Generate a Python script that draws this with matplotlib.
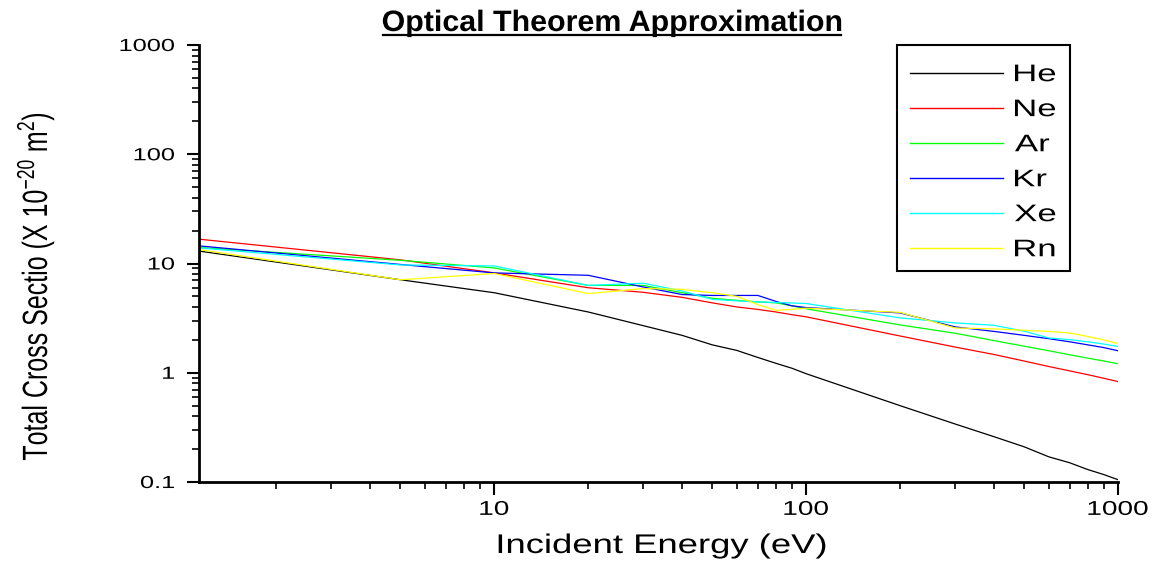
import matplotlib
matplotlib.use("Agg")
import matplotlib.pyplot as plt
from matplotlib.lines import Line2D
from matplotlib.patches import PathPatch, Rectangle
from matplotlib.textpath import TextPath
from matplotlib.font_manager import FontProperties
from matplotlib.transforms import Affine2D, IdentityTransform
from matplotlib.ticker import LogLocator, FixedLocator, NullFormatter

plt.rcParams['font.family'] = ['Liberation Sans', 'DejaVu Sans']
plt.rcParams['mathtext.default'] = 'regular'

# incident energies (eV), shared by all gases
energy = [1.13, 5, 10, 20, 30, 40, 50, 60, 70, 80, 90, 100,
          200, 300, 400, 500, 600, 700, 800, 900, 1000]

# total cross sections (x 1e-20 m^2)
he = [13.0, 7.1, 5.4, 3.6, 2.7, 2.2, 1.8, 1.6, 1.38, 1.22, 1.1, 0.98,
      0.50, 0.34, 0.26, 0.21, 0.17, 0.15, 0.13, 0.117, 0.105]
ne = [16.7, 10.8, 8.2, 6.0, 5.45, 4.9, 4.36, 4.0, 3.8, 3.6, 3.4, 3.25,
      2.17, 1.72, 1.47, 1.28, 1.14, 1.04, 0.96, 0.89, 0.83]
ar = [14.0, 10.7, 9.1, 6.3, 6.3, 5.4, 4.8, 4.6, 4.45, 4.36, 4.1, 3.85,
      2.74, 2.3, 1.97, 1.75, 1.59, 1.46, 1.36, 1.28, 1.21]
kr = [14.5, 9.8, 8.2, 7.8, 6.1, 5.2, 5.1, 5.1, 5.1, 4.5, 4.1, 3.95,
      3.53, 2.63, 2.39, 2.2, 2.05, 1.92, 1.8, 1.7, 1.59]
xe = [13.9, 9.7, 9.5, 6.3, 6.6, 5.6, 4.7, 4.55, 4.45, 4.4, 4.35, 4.3,
      3.18, 2.86, 2.72, 2.4, 2.08, 2.01, 1.92, 1.83, 1.74]
rn = [13.4, 7.1, 8.1, 5.3, 5.9, 5.8, 5.4, 5.0, 4.2, 3.73, 3.8, 3.9,
      3.57, 2.57, 2.52, 2.45, 2.39, 2.31, 2.15, 2.0, 1.85]

gases = ['He', 'Ne', 'Ar', 'Kr', 'Xe', 'Rn']
series = [he, ne, ar, kr, xe, rn]
colors = ['black', '#ff0000', '#00ff00', '#0000ff', '#00ffff', '#ffff00']

xticks = [10, 100, 1000]
xtick_labels = ['10', '100', '1000']
yticks = [0.1, 1, 10, 100, 1000]
ytick_labels = ['0.1', '1', '10', '100', '1000']

W, H = 1154, 562
fig = plt.figure(figsize=(W / 100, H / 100), dpi=100)
ax = fig.add_axes([199 / W, 1 - 482 / H, 919 / W, 437 / H])


def put_text(s, x, y, size, sx=1.0, sy=1.0, ha='center', va='center',
             rot=0, weight='normal'):
    # text drawn as a path so it can be stretched like the original picture
    # x, y are pixels measured from the top-left corner
    fp = FontProperties(family='Liberation Sans', weight=weight)
    tp = TextPath((0, 0), s, size=size, prop=fp)
    ext = tp.get_extents()
    ox = {'left': ext.x0, 'center': (ext.x0 + ext.x1) / 2, 'right': ext.x1}[ha]
    oy = {'bottom': ext.y0, 'center': (ext.y0 + ext.y1) / 2, 'top': ext.y1,
          'baseline': 0}[va]
    tr = (Affine2D().translate(-ox, -oy).scale(sx, sy).rotate_deg(rot)
          .translate(x, H - y))
    fig.add_artist(PathPatch(tp, transform=tr, facecolor='black', lw=0))
    return (ext.x0 - ox) * sx + x, (ext.x1 - ox) * sx + x


for name, vals, col in zip(gases, series, colors):
    ax.plot(energy, vals, color=col, lw=0.9)

ax.set_xscale('log')
ax.set_yscale('log')
ax.set_xlim(1.13, 1000)
ax.set_ylim(0.1, 1000)

for s in ['top', 'right']:
    ax.spines[s].set_visible(False)
for s in ['left', 'bottom']:
    ax.spines[s].set_linewidth(2)

ax.xaxis.set_major_locator(FixedLocator(xticks))
ax.xaxis.set_minor_locator(LogLocator(base=10, subs=range(2, 10)))
ax.yaxis.set_major_locator(FixedLocator(yticks))
ax.yaxis.set_minor_locator(LogLocator(base=10, subs=range(2, 10)))
for a in [ax.xaxis, ax.yaxis]:
    a.set_major_formatter(NullFormatter())
    a.set_minor_formatter(NullFormatter())
ax.tick_params(which='major', direction='out', length=9, width=1.5)
ax.tick_params(which='minor', direction='out', length=5, width=1.2)

# tick labels, placed at the positions the log axes give
fig.canvas.draw()
for v, lab in zip(xticks, xtick_labels):
    px = ax.transData.transform((v, 1))[0]
    put_text(lab, px, 508, 20, sx=1.4)
for v, lab in zip(yticks, ytick_labels):
    py = H - ax.transData.transform((10, v))[1]
    put_text(lab, 174, py, 17.5, sx=1.45, ha='right')

# axis labels
put_text('Incident Energy (eV)', 662, 553, 27, sx=1.35, va='baseline')
put_text('Total Cross Sectio (X 10$^{-20}$ m$^{2}$)', 47, 287, 25, sy=1.4,
         va='baseline', rot=90)

# title with underline
x0, x1 = put_text('Optical Theorem Approximation', 612, 31, 29.5, sx=1.03,
                  va='baseline', weight='bold')
fig.add_artist(Line2D([x0, x1], [H - 35, H - 35], transform=IdentityTransform(),
                      color='black', lw=1.6))

# legend box
fig.add_artist(Rectangle((897, H - 271), 173, 226, transform=IdentityTransform(),
                         fill=False, edgecolor='black', lw=1.5))
for i, (name, col) in enumerate(zip(gases, colors)):
    ly = 73 + i * 35
    fig.add_artist(Line2D([910, 1003], [H - ly, H - ly],
                          transform=IdentityTransform(), color=col, lw=1.0))
    put_text(name, 1015, ly, 24, sx=1.45, ha='left')

fig.savefig('out.png', dpi=100)
